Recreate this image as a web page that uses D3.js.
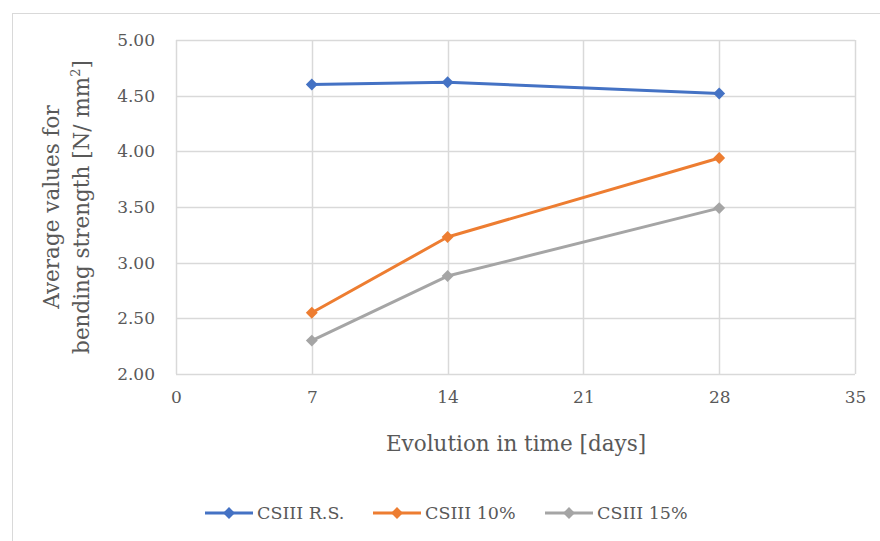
<!DOCTYPE html>
<html>
<head>
<meta charset="utf-8">
<script src="https://cdn.jsdelivr.net/npm/d3@7"></script>
<style>
  body { margin: 0; background: #fff; }
  text { font-family: "DejaVu Serif", "Liberation Serif", serif; fill: #595959; }
</style>
</head>
<body>
<svg id="chart"></svg>
<script>
// data
const days = [7, 14, 28];
const seriesNames = ["CSIII R.S.", "CSIII 10%", "CSIII 15%"];
const rsValues = [4.60, 4.62, 4.52];
const p10Values = [2.55, 3.23, 3.94];
const p15Values = [2.30, 2.88, 3.49];
const colors = ["#4472c4", "#ed7d31", "#a5a5a5"];
const xTicks = [0, 7, 14, 21, 28, 35];
const yTicks = [2.0, 2.5, 3.0, 3.5, 4.0, 4.5, 5.0];

const series = [rsValues, p10Values, p15Values].map((vals, i) => ({
  name: seriesNames[i],
  color: colors[i],
  points: days.map((d, j) => ({ x: d, y: vals[j] })),
}));

let width = 880,
  height = 541;
let margin = { top: 40, bottom: 167, left: 176, right: 25 };

let svg = d3.select("#chart").attr("width", width).attr("height", height);

// outer chart frame
svg
  .append("rect")
  .attr("x", 12.5)
  .attr("y", 13.5)
  .attr("width", 900)
  .attr("height", 600)
  .attr("fill", "none")
  .attr("stroke", "#d9d9d9")
  .attr("stroke-width", 1);

let xScale = d3.scaleLinear().domain([0, 35]).range([margin.left, width - margin.right]);
let yScale = d3.scaleLinear().domain([2, 5]).range([height - margin.bottom, margin.top]);

// gridlines
svg
  .selectAll(".hgrid")
  .data(yTicks)
  .enter()
  .append("line")
  .attr("x1", xScale(0))
  .attr("x2", xScale(35))
  .attr("y1", (d) => Math.round(yScale(d)) + 0.5)
  .attr("y2", (d) => Math.round(yScale(d)) + 0.5)
  .attr("stroke", "#d9d9d9")
  .attr("stroke-width", 1.5);

svg
  .selectAll(".vgrid")
  .data(xTicks)
  .enter()
  .append("line")
  .attr("x1", (d) => Math.round(xScale(d)) + 0.5)
  .attr("x2", (d) => Math.round(xScale(d)) + 0.5)
  .attr("y1", yScale(5))
  .attr("y2", yScale(2))
  .attr("stroke", "#d9d9d9")
  .attr("stroke-width", 1.5);

// axes (labels only)
let xAxis = svg
  .append("g")
  .attr("transform", `translate(0, ${yScale(2) + 11})`)
  .call(d3.axisBottom(xScale).tickValues(xTicks).tickSize(0).tickFormat(d3.format("d")));
xAxis.select(".domain").remove();
xAxis.selectAll("text").attr("font-size", "17px").attr("dy", "0.9em");

let yAxis = svg
  .append("g")
  .attr("transform", `translate(${xScale(0) - 18}, 0)`)
  .call(d3.axisLeft(yScale).tickValues(yTicks).tickSize(0).tickFormat(d3.format(".2f")));
yAxis.select(".domain").remove();
yAxis.selectAll("text").attr("font-size", "17px");

// axis titles
svg
  .append("text")
  .attr("x", 516)
  .attr("y", 451)
  .attr("text-anchor", "middle")
  .attr("font-size", "21.5px")
  .text("Evolution in time [days]");

let yTitle = svg
  .append("text")
  .attr("transform", "translate(59, 207) rotate(-90)")
  .attr("text-anchor", "middle")
  .attr("font-size", "21.5px");
yTitle.append("tspan").attr("x", 0).attr("dy", 0).text("Average values for");
yTitle.append("tspan").attr("x", 0).attr("dy", 30).text("bending strength [N/ mm");
yTitle.append("tspan").attr("dy", -9).attr("font-size", "13px").text("2");
yTitle.append("tspan").attr("dy", 9).text("]");

// lines
let line = d3
  .line()
  .x((d) => xScale(d.x))
  .y((d) => yScale(d.y));

let diamond = d3.symbol().type(d3.symbolDiamond2).size(90);

series.forEach(function (s) {
  svg
    .append("path")
    .datum(s.points)
    .attr("d", line)
    .attr("fill", "none")
    .attr("stroke", s.color)
    .attr("stroke-width", 3)
    .attr("stroke-linejoin", "round");

  svg
    .selectAll(null)
    .data(s.points)
    .enter()
    .append("path")
    .attr("d", diamond)
    .attr("transform", (d) => `translate(${xScale(d.x)}, ${yScale(d.y)})`)
    .attr("fill", s.color);
});

// legend
let legendX = [205, 373, 545];
series.forEach(function (s, i) {
  let g = svg.append("g").attr("transform", `translate(${legendX[i]}, 513)`);
  g.append("line")
    .attr("x1", 0)
    .attr("x2", 48)
    .attr("stroke", s.color)
    .attr("stroke-width", 3);
  g.append("path").attr("d", diamond).attr("transform", "translate(24, 0)").attr("fill", s.color);
  g.append("text")
    .attr("x", 52)
    .attr("dy", "0.35em")
    .attr("font-size", "17.5px")
    .text(s.name);
});
</script>
</body>
</html>
